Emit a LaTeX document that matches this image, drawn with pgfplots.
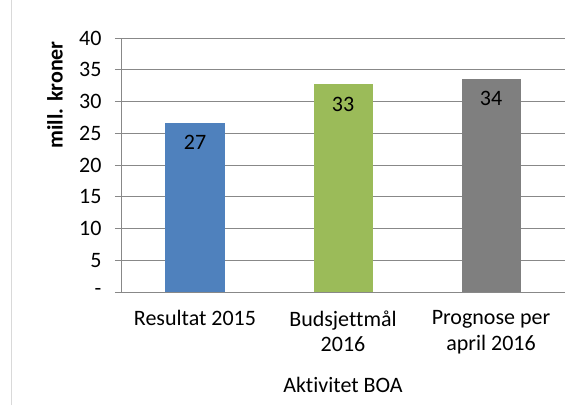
\documentclass[border=0pt]{standalone}
\usepackage{fontspec}
\setmainfont{Carlito}[Ligatures=NoCommon]
\usepackage{pgfplots}
\pgfplotsset{compat=1.18}
\definecolor{barblue}{HTML}{4F81BD}
\definecolor{bargreen}{HTML}{9BBB59}
\definecolor{bargray}{HTML}{7F7F7F}
\definecolor{gridgray}{HTML}{888888}
\definecolor{framegray}{HTML}{D9D9D9}
\newcommand{\chartfont}{\fontsize{22}{25.5}\selectfont}
\begin{document}
\begin{tikzpicture}
\begin{axis}[
  name=ax,
  scale only axis,
  width=444pt, height=254pt,
  xmin=-0.5, xmax=2.5,
  ymin=0, ymax=40,
  axis x line*=bottom,
  axis y line*=left,
  axis line style={gridgray, line width=0.8pt},
  ytick={0,5,...,40},
  yticklabels={-\hspace{9pt},5,10,15,20,25,30,35,40},
  xtick={0,1,2},
  xticklabels={Resultat 2015,Budsjettmål\\2016,Prognose per\\april 2016},
  xtick style={draw=none},
  ytick style={gridgray, line width=0.8pt},
  tick align=outside,
  major tick length=6pt,
  ymajorgrids,
  grid style={gridgray, line width=0.8pt},
  tick label style={font=\chartfont, color=black},
  yticklabel style={xshift=-10pt},
  xticklabel style={align=center, yshift=-9pt},
  xlabel={Aktivitet BOA},
  ylabel={mill. kroner},
  xlabel style={font=\chartfont, at={(rel axis cs:0.5,-0.3937)}, anchor=base},
  ylabel style={font=\chartfont\bfseries, at={(rel axis cs:-0.1486,0.776)}, anchor=center},
  /pgf/number format/assume math mode=true,
  nodes near coords={\pgfmathprintnumber[fixed,precision=0]{\pgfplotspointmeta}},
  nodes near coords style={font=\chartfont, color=black, anchor=north, yshift=-9pt},
  clip=false,
]
\addplot[ybar, bar shift=0pt, bar width=59pt, fill=barblue, draw=none] coordinates {(0,26.6)};
\addplot[ybar, bar shift=0pt, bar width=59pt, fill=bargreen, draw=none] coordinates {(1,32.7)};
\addplot[ybar, bar shift=0pt, bar width=59pt, fill=bargray, draw=none] coordinates {(2,33.6)};
\end{axis}
\draw[framegray, line width=0.8pt] (ax.south west) ++(-110pt,-113pt) -- ++(0,405pt);
\pgfresetboundingbox
\path[use as bounding box] (ax.south west) ++(-121pt,-113pt) rectangle ++(578pt,405pt);
\end{tikzpicture}
\end{document}
